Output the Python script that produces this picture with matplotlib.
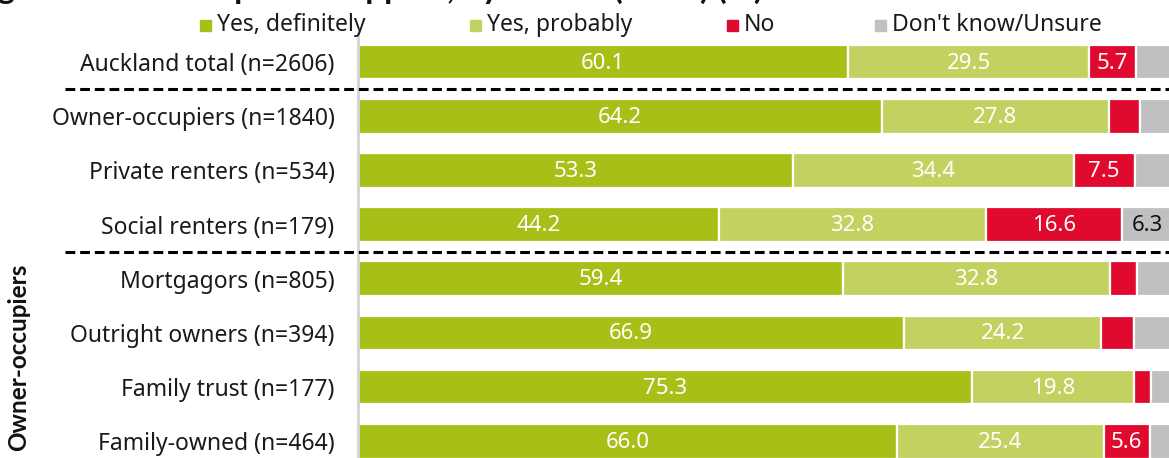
import matplotlib
matplotlib.use("Agg")
import matplotlib.pyplot as plt
from matplotlib.lines import Line2D
from matplotlib.patches import Rectangle
import matplotlib.transforms as mtransforms

plt.rcParams['font.family'] = ['Noto Sans', 'DejaVu Sans']

groups = [
    "Auckland total (n=2606)",
    "Owner-occupiers (n=1840)",
    "Private renters (n=534)",
    "Social renters (n=179)",
    "Mortgagors (n=805)",
    "Outright owners (n=394)",
    "Family trust (n=177)",
    "Family-owned (n=464)",
]
series_names = ["Yes, definitely", "Yes, probably", "No", "Don't know/Unsure"]
yes_definitely = [60.1, 64.2, 53.3, 44.2, 59.4, 66.9, 75.3, 66.0]
yes_probably = [29.5, 27.8, 34.4, 32.8, 32.8, 24.2, 19.8, 25.4]
no = [5.7, 3.8, 7.5, 16.6, 3.3, 4.0, 2.1, 5.6]
dont_know = [4.7, 4.2, 4.8, 6.3, 4.5, 4.9, 2.8, 3.0]

colors = ["#a8bf18", "#c3d160", "#e0092e", "#c0c0c0"]
text_colors = ["white", "white", "white", "#111111"]
label_min = 5.0
fs_label = 16.5
fs_value = 16

W, H = 1169, 458
fig = plt.figure(figsize=(W / 100, H / 100), dpi=100)
ax = fig.add_axes([358 / W, 0, 816 / W, 426 / H])

series = [yes_definitely, yes_probably, no, dont_know]
ypos = list(range(len(groups)))
left = [0.0] * len(groups)
for vals, col, tcol in zip(series, colors, text_colors):
    ax.barh(ypos, vals, left=left, height=0.64, color=col,
            edgecolor="white", linewidth=1.6)
    for y, v, l in zip(ypos, vals, left):
        if v >= label_min:
            ax.text(l + v / 2, y + 0.02, f"{v:.1f}", ha="center", va="center",
                    color=tcol, fontsize=fs_value)
    left = [l + v for l, v in zip(left, vals)]

ax.set_xlim(0, 100)
ax.set_ylim(7.31, -0.555)
ax.set_yticks(ypos)
ax.set_yticklabels(groups, fontsize=fs_label, color="#1a1a1a")
ax.tick_params(axis="y", length=0, pad=17)
ax.set_xticks([])
for side in ["top", "right", "bottom"]:
    ax.spines[side].set_visible(False)
ax.spines["left"].set_color("#d4d4d4")
ax.spines["left"].set_linewidth(2)

# dashed separators between the group blocks, spanning from the labels to the right edge
trans = mtransforms.blended_transform_factory(fig.transFigure, ax.transData)
for ysep in [0.5, 3.5]:
    fig.add_artist(Line2D([65 / W, 1.0], [ysep, ysep], transform=trans,
                          color="black", linewidth=2.2, linestyle=(0, (3.2, 1.6))))

# owner-occupier block label
fig.text(19 / W, 1 - 357 / H, "Owner-occupiers", rotation=90, ha="center",
         va="center", fontsize=17.5, fontweight="bold", family=["Lato"],
         color="#111111")

# legend row
legend_x = [200, 470, 727, 875]
for name, col, lx in zip(series_names, colors, legend_x):
    fig.add_artist(Rectangle((lx / W, 1 - 31 / H), 11 / W, 11 / H,
                             transform=fig.transFigure, color=col))
    fig.text((lx + 17) / W, 1 - 25 / H, name, ha="left", va="center",
             fontsize=fs_label, color="#1a1a1a")

# chart title (runs off the top edge)
fig.text(-30 / W, 1 + 1 / H, "Figure 3: Level of public support, by tenure (2023) (%)",
         ha="left", va="baseline", fontsize=24, fontweight="bold", family=["Lato"],
         color="#111111")

fig.savefig("out.png", dpi=100)
